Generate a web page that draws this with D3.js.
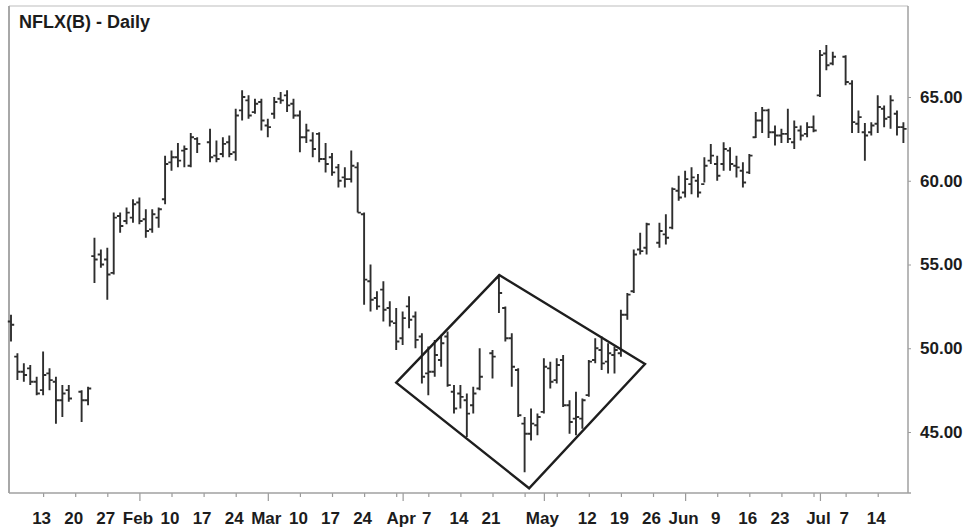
<!DOCTYPE html>
<html>
<head>
<meta charset="utf-8">
<script src="https://cdn.jsdelivr.net/npm/d3@7"></script>
<style>
  html, body { margin: 0; padding: 0; background: #fff; }
  svg { display: block; }
  text { font-family: "Liberation Sans", Arial, Helvetica, sans-serif; font-weight: bold; fill: #1c1c1c; }
</style>
</head>
<body>
<svg id="chart" width="976" height="531"></svg>
<script>
// NFLX daily OHLC, split-adjusted, Jan 6 – Jul 18, 2014
const days = [
  "2014-01-06","2014-01-07","2014-01-08","2014-01-09","2014-01-10",
  "2014-01-13","2014-01-14","2014-01-15","2014-01-16","2014-01-17",
  "2014-01-21","2014-01-22","2014-01-23","2014-01-24",
  "2014-01-27","2014-01-28","2014-01-29","2014-01-30","2014-01-31",
  "2014-02-03","2014-02-04","2014-02-05","2014-02-06","2014-02-07",
  "2014-02-10","2014-02-11","2014-02-12","2014-02-13","2014-02-14",
  "2014-02-18","2014-02-19","2014-02-20","2014-02-21",
  "2014-02-24","2014-02-25","2014-02-26","2014-02-27","2014-02-28",
  "2014-03-03","2014-03-04","2014-03-05","2014-03-06","2014-03-07",
  "2014-03-10","2014-03-11","2014-03-12","2014-03-13","2014-03-14",
  "2014-03-17","2014-03-18","2014-03-19","2014-03-20","2014-03-21",
  "2014-03-24","2014-03-25","2014-03-26","2014-03-27","2014-03-28",
  "2014-03-31","2014-04-01","2014-04-02","2014-04-03","2014-04-04",
  "2014-04-07","2014-04-08","2014-04-09","2014-04-10","2014-04-11",
  "2014-04-14","2014-04-15","2014-04-16","2014-04-17",
  "2014-04-21","2014-04-22","2014-04-23","2014-04-24","2014-04-25",
  "2014-04-28","2014-04-29","2014-04-30","2014-05-01","2014-05-02",
  "2014-05-05","2014-05-06","2014-05-07","2014-05-08","2014-05-09",
  "2014-05-12","2014-05-13","2014-05-14","2014-05-15","2014-05-16",
  "2014-05-19","2014-05-20","2014-05-21","2014-05-22","2014-05-23",
  "2014-05-27","2014-05-28","2014-05-29","2014-05-30",
  "2014-06-02","2014-06-03","2014-06-04","2014-06-05","2014-06-06",
  "2014-06-09","2014-06-10","2014-06-11","2014-06-12","2014-06-13",
  "2014-06-16","2014-06-17","2014-06-18","2014-06-19","2014-06-20",
  "2014-06-23","2014-06-24","2014-06-25","2014-06-26","2014-06-27",
  "2014-06-30","2014-07-01","2014-07-02","2014-07-03",
  "2014-07-07","2014-07-08","2014-07-09","2014-07-10","2014-07-11",
  "2014-07-14","2014-07-15","2014-07-16","2014-07-17","2014-07-18"
];

const open = [
  51.6,49.5,48.6,48.8,48.0, 47.5,48.5,48.0,46.9,47.5, 47.4,46.9,55.5,55.6,
  55.3,54.5,57.9,57.6,57.8, 58.7,57.7,57.1,57.8,58.9, 61.1,61.4,61.8,60.9,62.5,
  62.3,61.5,61.6,62.3, 61.7,64.2,64.8,64.1,64.7, 63.3,64.0,64.9,65.1,64.6,
  63.9,62.6,62.4,62.8,61.3, 61.4,60.8,60.2,60.1,60.8, 58.0,54.0,53.0,53.5,52.4,
  51.5,50.6,52.5,51.9,50.7, 48.5,48.6,49.3,50.7,47.4, 47.3,46.9,46.6,47.6,
  49.7,54.2,52.4,50.6,48.7, 45.5,44.9,45.4,46.2,48.8, 48.1,49.3,46.6,45.8,45.8,
  47.2,49.3,49.9,49.2,49.6, 49.7,52.0,53.4,55.9,56.0, 56.3,56.8,57.2,59.4,
  59.3,59.8,60.0,59.8,61.2, 61.0,61.0,61.8,60.9,60.6, 60.5,62.6,63.6,64.2,62.9,
  62.7,62.8,62.3,63.0,62.8, 63.2,65.1,67.6,67.0, 67.4,65.8,63.4,62.9,62.9,
  63.4,64.3,63.8,64.0,63.2
];
const high = [
  52.0,49.7,49.1,49.0,48.3, 49.8,48.8,48.3,47.8,47.8, 47.5,47.7,56.6,55.9,
  56.0,58.1,58.1,58.4,58.9, 59.0,58.3,58.3,58.4,61.5, 61.8,62.25,62.1,62.85,62.6,
  63.1,62.4,62.6,62.7, 64.3,65.4,65.1,64.9,64.9, 63.7,65.0,65.3,65.4,64.9,
  64.2,63.4,62.9,62.9,62.25, 61.65,61.0,60.8,61.8,61.1, 58.1,55.0,53.4,54.0,52.8,
  52.4,52.2,53.1,52.2,50.9, 50.1,50.5,50.8,51.0,47.8, 47.8,47.3,47.7,50.0,
  49.9,54.4,52.5,50.9,48.8, 45.9,46.4,46.1,49.4,49.2, 49.4,49.6,46.9,47.4,47.0,
  49.3,50.6,50.7,50.3,50.1, 52.3,53.3,55.9,56.9,57.5, 57.5,58.0,59.6,60.3,
  60.6,60.8,60.4,61.4,62.2, 61.5,62.3,62.0,61.5,61.1, 61.6,64.1,64.4,64.3,63.3,
  63.1,64.3,63.6,63.3,63.5, 63.9,67.8,68.1,67.7, 67.5,66.0,64.2,63.45,63.5,
  65.1,64.5,65.1,64.2,63.5
];
const low = [
  50.4,48.1,48.0,47.8,47.2, 47.2,47.5,45.5,45.9,46.8, 45.6,46.6,53.9,54.8,
  52.9,54.4,56.9,57.4,57.5, 57.4,56.6,56.9,57.2,58.6, 60.6,60.8,60.8,60.8,61.65,
  61.1,61.1,61.4,61.4, 61.2,63.6,63.7,64.0,63.0, 62.6,63.7,64.6,64.1,63.7,
  61.7,62.25,61.4,61.1,60.5, 60.3,59.6,59.6,59.9,58.1, 52.6,52.2,52.3,51.6,51.3,
  49.9,50.2,51.2,50.0,47.9, 47.2,48.3,48.9,47.7,46.1, 46.4,44.7,46.1,47.5,
  48.2,52.1,50.4,47.7,45.9, 42.6,44.5,44.8,46.1,47.6, 47.9,46.5,44.9,44.8,45.2,
  47.1,49.1,48.7,48.5,48.5, 49.5,51.7,53.3,55.6,55.6, 56.0,56.2,57.1,58.8,
  59.0,59.2,59.0,59.9,61.0, 60.0,60.6,60.6,60.2,59.6, 60.4,62.55,62.85,62.55,62.1,
  62.25,62.25,61.9,62.4,62.6, 62.9,65.0,66.6,66.9, 65.7,62.85,62.85,61.2,62.7,
  62.85,63.2,63.1,62.7,62.25
];
const close = [
  51.4,48.6,48.4,48.0,47.3, 48.4,48.1,46.9,47.3,47.0, 46.9,47.6,55.3,55.0,
  54.4,57.8,57.3,58.1,58.6, 57.6,57.0,58.0,58.3,61.0, 61.4,61.2,61.9,62.6,62.2,
  61.4,61.3,62.2,61.6, 63.9,65.0,63.9,64.6,63.6, 63.2,64.7,64.8,64.5,63.9,
  62.6,63.0,61.9,61.3,61.0, 60.5,60.0,60.1,60.9,58.1, 54.1,52.9,52.5,52.3,51.6,
  50.4,51.8,51.7,50.5,48.3, 48.6,49.6,50.3,47.8,46.4, 47.1,46.1,47.3,48.3,
  49.5,53.3,50.6,48.9,46.0, 44.9,45.5,45.9,48.9,48.0, 49.0,46.6,45.6,45.9,46.9,
  49.2,50.0,49.1,49.7,49.9, 52.0,53.2,55.6,55.8,57.4, 57.0,56.6,59.5,59.0,
  60.1,60.2,59.3,60.9,61.5, 60.3,61.9,61.0,60.8,59.9, 61.5,63.6,64.2,62.9,62.7,
  62.8,62.5,63.2,62.7,63.2, 63.0,67.5,66.9,67.4, 65.9,63.5,63.8,62.7,63.3,
  64.4,63.7,64.8,63.2,63.1
];

// Axis ticks: weekly Mondays plus first trading day of each month
const tickDays = [
  "2014-01-13","2014-01-20","2014-01-27","2014-02-03","2014-02-10","2014-02-17",
  "2014-02-24","2014-03-03","2014-03-10","2014-03-17","2014-03-24","2014-03-31",
  "2014-04-01","2014-04-07","2014-04-14","2014-04-21","2014-04-28","2014-05-01",
  "2014-05-05","2014-05-12","2014-05-19","2014-05-26","2014-06-02","2014-06-09",
  "2014-06-16","2014-06-23","2014-06-30","2014-07-01","2014-07-07","2014-07-14"
];
const tickLabels = [
  "13","20","27","Feb","10","17",
  "24","Mar","10","17","24","",
  "Apr","7","14","21","","May",
  "","12","19","26","Jun","9",
  "16","23","","Jul","7","14"
];
const monthStarts = ["2014-02-03","2014-03-03","2014-04-01","2014-05-01","2014-06-02","2014-07-01"];
const priceTicks = [45, 50, 55, 60, 65];

// Diamond pattern outline: positions in weekday slots and prices (left, top, right, bottom)
const diamondSlots = [60, 76.05, 98.75, 80.7];
const diamondPrices = [47.95, 54.37, 49.06, 41.64];

const title = "NFLX(B) - Daily";

// ---------------------------------------------------------------
const svg = d3.select("#chart");
const frame = { left: 9, right: 908, top: 6, bottom: 493 };

const parse = d3.timeParse("%Y-%m-%d");
const fmt = d3.timeFormat("%Y-%m-%d");

// every weekday gets a slot (holidays leave an empty slot)
const calendar = d3.timeDay.range(parse("2014-01-06"), parse("2014-07-19"))
  .filter(d => d.getDay() !== 0 && d.getDay() !== 6);
const slotIndex = new Map(calendar.map((d, i) => [fmt(d), i]));
const slotOf = s => slotIndex.get(s);

const x = d3.scaleLinear().domain([0, calendar.length - 1]).range([11, 903.4]);
const y = d3.scaleLinear().domain([45, 65]).range([432, 97]);

// frame
const g = svg.append("g");
g.append("line").attr("x1", frame.left).attr("x2", frame.right)
  .attr("y1", frame.top).attr("y2", frame.top)
  .attr("stroke", "#bdbdbd").attr("stroke-width", 1.2);
g.append("line").attr("x1", frame.left).attr("x2", frame.left)
  .attr("y1", frame.top).attr("y2", frame.bottom)
  .attr("stroke", "#a8a8a8").attr("stroke-width", 2);

// bottom axis
const xAxis = d3.axisBottom(x)
  .tickValues(tickDays.map(slotOf))
  .tickFormat((d, i) => tickLabels[i])
  .tickSize(4).tickPadding(15);
const gx = svg.append("g").attr("transform", `translate(0,${frame.bottom})`).call(xAxis);
gx.select(".domain").remove();
gx.selectAll(".tick line").attr("stroke", "#9a9a9a").attr("stroke-width", 1.2);
gx.selectAll(".tick text")
  .attr("font-size", 17).attr("dx", -2).attr("fill", "#1c1c1c")
  .style("font-family", "'Liberation Sans', Arial, sans-serif").style("font-weight", "bold");
gx.selectAll(".tick")
  .filter(d => monthStarts.map(slotOf).includes(d))
  .select("line").attr("y2", 8);
svg.append("line").attr("x1", frame.left).attr("x2", frame.right + 3)
  .attr("y1", frame.bottom).attr("y2", frame.bottom)
  .attr("stroke", "#a0a0a0").attr("stroke-width", 1.5);

// right price axis
const yAxis = d3.axisRight(y)
  .tickValues(priceTicks)
  .tickFormat(d3.format(".2f"))
  .tickSize(3).tickPadding(9);
const gy = svg.append("g").attr("transform", `translate(${frame.right},0)`).call(yAxis);
gy.select(".domain").remove();
gy.selectAll(".tick line").attr("stroke", "#9a9a9a");
gy.selectAll(".tick text")
  .attr("font-size", 17).attr("fill", "#1c1c1c")
  .style("font-family", "'Liberation Sans', Arial, sans-serif").style("font-weight", "bold");
svg.append("line").attr("x1", frame.right).attr("x2", frame.right)
  .attr("y1", frame.top).attr("y2", frame.bottom)
  .attr("stroke", "#a0a0a0").attr("stroke-width", 1.5);

// OHLC bars
const bars = days.map((d, i) => ({ slot: slotOf(d), o: open[i], h: high[i], l: low[i], c: close[i] }));
svg.append("g")
  .selectAll("path")
  .data(bars)
  .join("path")
  .attr("d", b => {
    const cx = x(b.slot);
    return `M${cx},${y(b.h)}V${y(b.l)}` +
           `M${cx - 3.2},${y(b.o)}H${cx}` +
           `M${cx},${y(b.c)}H${cx + 3.2}`;
  })
  .attr("fill", "none")
  .attr("stroke", "#2e2e2e")
  .attr("stroke-width", 1.9);

// diamond outline
const diamond = diamondSlots.map((s, i) => [x(s), y(diamondPrices[i])]);
svg.append("path")
  .attr("d", d3.line()(diamond) + "Z")
  .attr("fill", "none")
  .attr("stroke", "#1e1e1e")
  .attr("stroke-width", 2.4)
  .attr("stroke-linejoin", "miter");

// title
svg.append("text")
  .attr("x", 19).attr("y", 28)
  .attr("font-size", 18)
  .text(title);
</script>
</body>
</html>
